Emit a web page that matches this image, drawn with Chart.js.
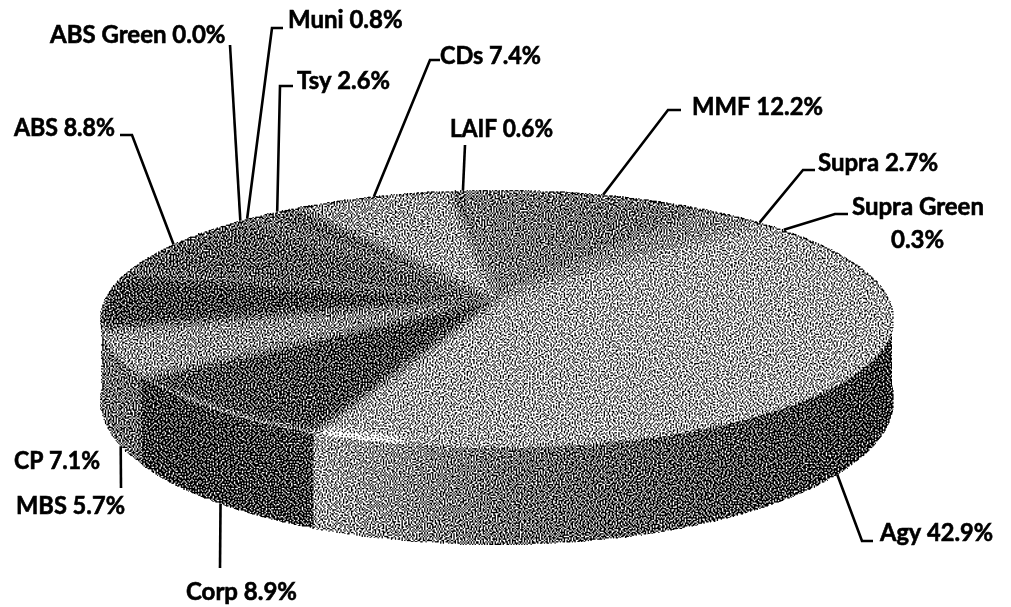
<!DOCTYPE html>
<html>
<head>
<meta charset="utf-8">
<title>Portfolio allocation</title>
<script src="https://cdn.jsdelivr.net/npm/chart.js@4"></script>
<style>
  html, body { margin: 0; background: #fff; }
  canvas { display: block; }
</style>
</head>
<body>
<canvas id="myChart" width="1011" height="607"></canvas>
<script>
// allocation, clockwise from the Agy slice
const categories = ["Agy", "Corp", "MBS", "CP", "ABS", "ABS Green", "Muni", "Tsy", "CDs", "LAIF", "MMF", "Supra", "Supra Green"];
const shares = [42.9, 8.9, 5.7, 7.1, 8.8, 0.0, 0.8, 2.6, 7.4, 0.6, 12.2, 2.7, 0.3];

// grey level of each slice on the lid: centre, rim
const lidTones = [[158, 160], [72, 84], [128, 150], [72, 78], [96, 96], [96, 96], [94, 94], [94, 98],
  [160, 148], [88, 88], [122, 112], [136, 132], [148, 148]];
// grey level of each slice on the wall, left to right
const wallTones = [[155, 112, 88, 66], [70, 76], [116, 108], [122, 118], [120, 120], [120, 120], [120, 120], [120, 120],
  [120, 120], [120, 120], [120, 120], [120, 120], [120, 120]];

// label text box (left, middle, width) and leader bend points, same order as categories
const labelBoxes = [[880, 533, 113], [186, 592, 111], [16, 506, 109], [14, 461, 86], [14, 128, 101], [50, 35, 176],
  [288, 20, 117], [297, 81, 93], [440, 56, 101], [450, 129, 103], [692, 107, 131], [818, 163, 125], [852, 207, 136]];
const leaderBends = [[[862, 541], [873, 541]], [[220, 568]], [[121, 488]], [], [[132, 135], [120, 135]], [[230, 45]],
  [[272, 28], [283, 28]], [[280, 86], [293, 86]], [[430, 60], [440, 60]], [[465, 145]], [[668, 110], [681, 110]],
  [[803, 170], [815, 170]], [[835, 214], [848, 214]]];
const leaderNudge = [2.5, -1.5, -3, 0, 0, 0, 0, 0, 0, 1, 2, 5, 5];

// perspective of the disc
const cx = 497, A = 391.7, K = 0.163;
const lid = { y0: 298, B: 125.6 };
const base = { y0: 376.4, B: 141.1 };

function project(face, theta) {
  const u = Math.sin(theta), v = -Math.cos(theta), w = 1 - K * v;
  return [cx + A * u / w, face.y0 + face.B * v / w];
}
function grey(g) { return "rgb(" + g + "," + g + "," + g + ")"; }

function rimPath(ctx, face, a, b, startNew) {
  const n = Math.max(2, Math.ceil(Math.abs(b - a) / 0.01));
  for (let i = 0; i <= n; i++) {
    const p = project(face, a + (b - a) * i / n);
    if (i === 0 && startNew) ctx.moveTo(p[0], p[1]); else ctx.lineTo(p[0], p[1]);
  }
}

function paintDisc(ctx, arcs) {
  ctx.fillStyle = "#fff";
  ctx.fillRect(0, 0, 1011, 607);

  // wall, only the part facing the viewer; undercoat first so no seams show
  const wallFrom = Math.PI * 0.52, wallTo = Math.PI * 1.48;
  ctx.fillStyle = grey(100);
  ctx.beginPath();
  rimPath(ctx, lid, wallFrom, wallTo, true);
  rimPath(ctx, base, wallTo, wallFrom, false);
  ctx.closePath();
  ctx.fill();
  arcs.forEach((arc, i) => {
    let a = arc.startAngle + Math.PI / 2, b = arc.endAngle + Math.PI / 2;
    const two = Math.PI * 2;
    if (a < 0) { a += two; b += two; }
    a = Math.max(a, wallFrom); b = Math.min(b, wallTo);
    if (b <= a) return;
    const p0 = project(lid, a), p1 = project(lid, b);
    const left = Math.min(p0[0], p1[0]), right = Math.max(p0[0], p1[0]);
    const g = ctx.createLinearGradient(left, 0, right, 0);
    wallTones[i].forEach((t, k, all) => g.addColorStop(k / (all.length - 1), grey(t)));
    ctx.fillStyle = g;
    ctx.beginPath();
    rimPath(ctx, lid, a, b, true);
    rimPath(ctx, base, b, a, false);
    ctx.closePath();
    ctx.fill();
  });

  // lid: slices are blurred together inside the disc outline
  ctx.save();
  ctx.beginPath();
  rimPath(ctx, lid, 0, Math.PI * 2, true);
  ctx.closePath();
  ctx.clip();
  ctx.fillStyle = grey(150);
  ctx.fillRect(0, 0, 1011, 607);
  ctx.filter = "blur(5px)";
  arcs.forEach((arc, i) => {
    const a = arc.startAngle + Math.PI / 2, b = arc.endAngle + Math.PI / 2;
    if (b - a < 1e-4) return;
    const mid = project(lid, (a + b) / 2);
    const g = ctx.createLinearGradient(cx, lid.y0, mid[0], mid[1]);
    g.addColorStop(0, grey(lidTones[i][0]));
    g.addColorStop(1, grey(lidTones[i][1]));
    ctx.fillStyle = g;
    ctx.beginPath();
    ctx.moveTo(cx, lid.y0);
    rimPath(ctx, lid, a, b, false);
    ctx.closePath();
    ctx.fill();
  });

  // glint along the front rim, either side of the Agy/Corp corner
  const corner = arcs[0].endAngle + Math.PI / 2;
  ctx.filter = "blur(4px)";
  ctx.lineWidth = 10;
  ctx.strokeStyle = "rgba(255,255,255,0.8)";
  ctx.beginPath();
  rimPath(ctx, lid, corner - 0.02, corner - 0.2, true);
  ctx.stroke();
  ctx.filter = "blur(2px)";
  ctx.lineWidth = 5;
  ctx.strokeStyle = "rgba(255,255,255,0.25)";
  ctx.beginPath();
  rimPath(ctx, lid, corner, corner + 0.4, true);
  ctx.stroke();
  ctx.filter = "none";

  // darker back rim
  ctx.strokeStyle = "rgba(50,50,50,0.55)";
  ctx.lineWidth = 4;
  ctx.beginPath();
  rimPath(ctx, lid, -Math.PI / 2, Math.PI / 2, true);
  ctx.stroke();
  ctx.restore();
}

// small integer hash, used to break up the regular patterns of error diffusion
function cellJitter(x, y) {
  let h = (x * 374761393 + y * 668265263) | 0;
  h = Math.imul(h ^ (h >>> 13), 1274126177);
  return (((h ^ (h >>> 16)) >>> 0) % 1000) / 1000 - 0.5;
}

// error diffusion on a grid a little coarser than the canvas, resampled and sharpened back
function ditherCanvas(ctx, w, h) {
  const cell = 1.33;
  const gw = Math.ceil(w / cell) + 1, gh = Math.ceil(h / cell) + 1;
  const img = ctx.getImageData(0, 0, w, h), d = img.data;
  const grid = new Float32Array(gw * gh), mask = new Uint8Array(gw * gh);
  for (let y = 0; y < gh; y++) {
    for (let x = 0; x < gw; x++) {
      const fx = Math.min(w - 1, Math.round(x * cell)), fy = Math.min(h - 1, Math.round(y * cell));
      const v = d[(fy * w + fx) * 4];
      grid[y * gw + x] = v;
      mask[y * gw + x] = v < 245 ? 1 : 0;
    }
  }
  for (let y = 0; y < gh; y++) {
    const ltr = y % 2 === 0, dir = ltr ? 1 : -1;
    for (let n = 0; n < gw; n++) {
      const x = ltr ? n : gw - 1 - n, i = y * gw + x;
      if (!mask[i]) {
        // cells just off the rim still carry ink so the outline stays solid
        grid[i] = grid[i] < 245 ? 0 : grid[i];
        continue;
      }
      const out = grid[i] < 128 + 110 * cellJitter(x, y) ? 0 : 255, err = grid[i] - out;
      grid[i] = out;
      const spread = (xx, yy, f) => {
        if (xx < 0 || xx >= gw || yy >= gh) return;
        const j = yy * gw + xx;
        if (mask[j]) grid[j] += err * f;
      };
      spread(x + dir, y, 7 / 16);
      spread(x - dir, y + 1, 3 / 16);
      spread(x, y + 1, 5 / 16);
      spread(x + dir, y + 1, 1 / 16);
    }
  }
  for (let y = 0; y < h; y++) {
    for (let x = 0; x < w; x++) {
      const i = (y * w + x) * 4;
      if (d[i] >= 245) { d[i] = d[i + 1] = d[i + 2] = 255; continue; }
      const gx = x / cell, gy = y / cell;
      const x0 = Math.floor(gx), y0 = Math.floor(gy), tx = gx - x0, ty = gy - y0;
      const at = (xx, yy) => grid[Math.min(gh - 1, yy) * gw + Math.min(gw - 1, xx)];
      const v = (at(x0, y0) * (1 - tx) + at(x0 + 1, y0) * tx) * (1 - ty)
        + (at(x0, y0 + 1) * (1 - tx) + at(x0 + 1, y0 + 1) * tx) * ty;
      const sharp = Math.max(0, Math.min(255, (v - 128) * 1.25 + 128));
      d[i] = d[i + 1] = d[i + 2] = sharp;
    }
  }
  ctx.putImageData(img, 0, 0);
}

const disc3d = {
  id: "disc3d",
  afterDatasetsDraw(chart) {
    const arcs = chart.getDatasetMeta(0).data;
    const off = document.createElement("canvas");
    off.width = chart.width;
    off.height = chart.height;
    const oc = off.getContext("2d", { willReadFrequently: true });
    paintDisc(oc, arcs);
    ditherCanvas(oc, off.width, off.height);
    const ctx = chart.ctx;
    ctx.drawImage(off, 0, 0);

    // leaders and labels
    ctx.save();
    ctx.strokeStyle = "#000";
    ctx.lineWidth = 2.6;
    ctx.lineJoin = "miter";
    arcs.forEach((arc, i) => {
      if (!leaderBends[i].length) return;
      const theta = (arc.startAngle + arc.endAngle) / 2 + Math.PI / 2 + leaderNudge[i] * Math.PI / 180;
      const facing = Math.cos(theta) < -0.2;
      const tip = project(facing ? base : lid, theta);
      ctx.beginPath();
      ctx.moveTo(tip[0], tip[1]);
      leaderBends[i].forEach(p => ctx.lineTo(p[0], p[1]));
      ctx.stroke();
    });
    ctx.fillStyle = "#000";
    ctx.lineWidth = 0.6;
    ctx.font = "bold 24px Lato";
    ctx.textBaseline = "middle";
    const put = (text, x, y, width) => {
      ctx.fillText(text, x, y, width);
      ctx.strokeText(text, x, y, width);
    };
    categories.forEach((name, i) => {
      const box = labelBoxes[i], pct = shares[i].toFixed(1) + "%";
      if (name === "Supra Green") {
        put(name, box[0], box[1], box[2]);
        put(pct, box[0] + 39, box[1] + 33, 55);
      } else {
        put(name + " " + pct, box[0], box[1], box[2]);
      }
    });
    ctx.restore();
  }
};

new Chart("myChart", {
  type: "pie",
  data: {
    labels: categories,
    datasets: [{
      data: shares,
      backgroundColor: "transparent",
      borderWidth: 0
    }]
  },
  options: {
    responsive: false,
    animation: false,
    rotation: 49,
    plugins: { legend: { display: false }, tooltip: { enabled: false } }
  },
  plugins: [disc3d]
});
</script>
</body>
</html>
